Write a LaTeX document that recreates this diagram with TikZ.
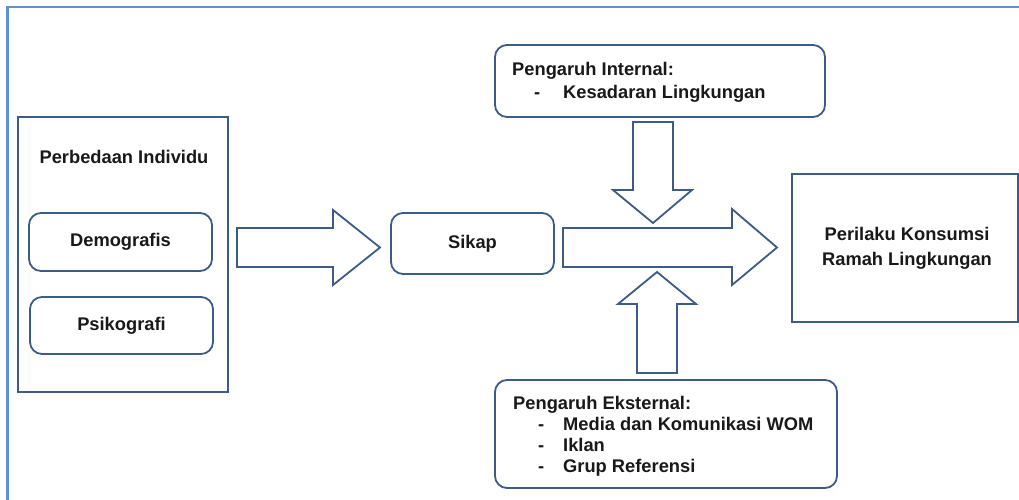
\documentclass[tikz,border=0pt]{standalone}
\usepackage{fontspec}
\setmainfont{Liberation Sans}
\definecolor{boxc}{RGB}{62,90,135}
\definecolor{framec}{RGB}{95,145,215}
\begin{document}
\begin{tikzpicture}[x=1pt,y=-1pt,
  txt/.style={font=\fontsize{18.3}{21}\selectfont\bfseries, text=black!90, inner sep=0pt},
  sqbox/.style={draw=boxc, line width=1.8pt, fill=white, inner sep=0pt},
  rbox/.style={sqbox, rounded corners=12pt},
  blockarrow/.style={draw=boxc, line width=1.8pt, fill=white, line join=miter}]
\useasboundingbox (0,0) rectangle (1019,500);
\fill[white] (0,0) rectangle (1019,500);
% outer frame
\coordinate (fbl) at (7.5,500);
\coordinate (ftl) at (7.5,7);
\coordinate (ftr) at (1019,7);
\draw[framec, line width=2.5pt] (fbl) -- (ftl) -- (ftr);

% boxes
\node[sqbox, minimum width=210pt, minimum height=275pt] (pi) at (123,254.5) {};
\node[txt] (pitxt) at (124,157) {Perbedaan Individu};
\node[rbox, minimum width=183pt, minimum height=58pt] (dem) at (120.5,242) {};
\node[txt] at (dem.center) {Demografis};
\node[rbox, minimum width=183pt, minimum height=57pt] (psi) at (121.5,325.5) {};
\node[txt] at (psi.center) {Psikografi};

\node[rbox, minimum width=163pt, minimum height=61pt] (sikap) at (472.5,243.5) {};
\node[txt] at (sikap.center) {Sikap};

\node[rbox, minimum width=330pt, minimum height=72pt] (intl) at (660,81) {};
\node[txt, anchor=base west] (it1) at (512,76) {Pengaruh Internal:};
\node[txt, anchor=base west] (it2d) at (534,99) {-};
\node[txt, anchor=base west] (it2) at (563,99) {Kesadaran Lingkungan};

\node[rbox, minimum width=342pt, minimum height=108pt] (extl) at (666,434) {};
\node[txt, anchor=base west] (et1) at (513,409) {Pengaruh Eksternal:};
\node[txt, anchor=base west] (et2d) at (538,430) {-};
\node[txt, anchor=base west] (et2) at (563,430) {Media dan Komunikasi WOM};
\node[txt, anchor=base west] (et3d) at (538,451) {-};
\node[txt, anchor=base west] (et3) at (563,451) {Iklan};
\node[txt, anchor=base west] (et4d) at (538,472) {-};
\node[txt, anchor=base west] (et4) at (563,472) {Grup Referensi};

\node[sqbox, minimum width=226pt, minimum height=148pt] (out) at (905,248) {};
\node[txt, align=center, font=\fontsize{18.3}{25}\selectfont\bfseries] at (907,248) {Perilaku Konsumsi\\Ramah Lingkungan};

% block arrows
\draw[blockarrow] (237,228) -- (333,228) -- (333,210) -- (380,247.5) -- (333,285) -- (333,267) -- (237,267) -- cycle;
\draw[blockarrow] (563,228) -- (732,228) -- (732,209) -- (777,247.5) -- (732,285) -- (732,267) -- (563,267) -- cycle;
\draw[blockarrow] (633,122) -- (673,122) -- (673,190) -- (692,190) -- (653,223) -- (613,190) -- (633,190) -- cycle;
\draw[blockarrow] (637,373) -- (677,373) -- (677,304) -- (696,304) -- (657,272) -- (618,304) -- (637,304) -- cycle;
\end{tikzpicture}
\end{document}
